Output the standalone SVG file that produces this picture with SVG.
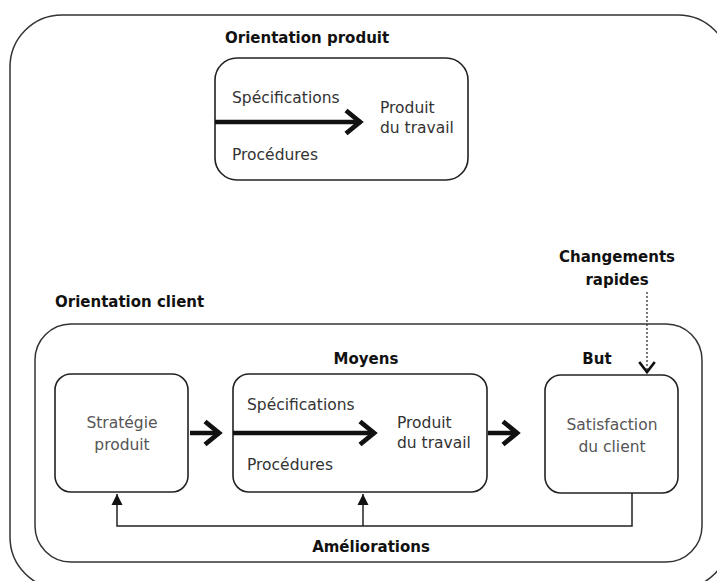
<svg xmlns="http://www.w3.org/2000/svg" width="717" height="581" viewBox="0 0 717 581">
<style>
.frame{fill:none;stroke:#333;stroke-width:1.5}
.box{fill:#fff;stroke:#222;stroke-width:1.6}
.lbl{font-family:"DejaVu Sans",sans-serif;font-size:15.5px;fill:#333}
.glbl{font-family:"DejaVu Sans",sans-serif;font-size:15.5px;fill:#555}
.ttl{font-family:"DejaVu Sans",sans-serif;font-size:15px;font-weight:bold;fill:#111}
.thick{fill:none;stroke:#111;stroke-width:4.5}
.thin{fill:none;stroke:#222;stroke-width:1.5}
.dot{fill:none;stroke:#333;stroke-width:1.3;stroke-dasharray:2 2}
</style>
<defs>
<marker id="chev" markerUnits="userSpaceOnUse" markerWidth="30" markerHeight="30" refX="1" refY="0" viewBox="-16 -15 20 30" orient="auto">
<path d="M-14,-11.5 L0,0 L-14,11.5" fill="none" stroke="#111" stroke-width="4.8" stroke-linejoin="miter"/>
</marker>
<marker id="tri" markerUnits="userSpaceOnUse" markerWidth="14" markerHeight="14" refX="0" refY="0" viewBox="-12 -7 14 14" orient="auto">
<path d="M-11,-5.5 L0,0 L-11,5.5 Z" fill="#111"/>
</marker>
<marker id="vchev" markerUnits="userSpaceOnUse" markerWidth="20" markerHeight="20" refX="0" refY="0" viewBox="-12 -9 14 18" orient="auto">
<path d="M-9,-7 L0,0 L-9,7" fill="none" stroke="#111" stroke-width="2.4"/>
</marker>
</defs>

<g id="outer-frame">
<rect class="frame" x="10" y="15" width="720" height="574" rx="52"/>
</g>

<g id="orientation-produit">
<text class="ttl" x="225" y="43">Orientation produit</text>
<rect class="box" x="215" y="58" width="253" height="122" rx="22"/>
<text class="lbl" x="232" y="103">Spécifications</text>
<text class="lbl" x="232" y="160">Procédures</text>
<text class="lbl" x="380" y="113">Produit</text>
<text class="lbl" x="380" y="133">du travail</text>
</g>

<g id="orientation-client">
<text class="ttl" x="55" y="307">Orientation client</text>
<rect class="frame" x="35" y="324" width="667" height="238" rx="36"/>
</g>

<g id="strategie">
<rect class="box" x="55" y="374" width="133" height="118" rx="16"/>
<text class="glbl" x="122" y="428" text-anchor="middle">Stratégie</text>
<text class="glbl" x="122" y="450" text-anchor="middle">produit</text>
</g>

<g id="moyens">
<text class="ttl" x="366" y="364" text-anchor="middle">Moyens</text>
<rect class="box" x="233" y="374" width="254" height="118" rx="16"/>
<text class="lbl" x="247" y="410">Spécifications</text>
<text class="lbl" x="247" y="470">Procédures</text>
<text class="lbl" x="397" y="428">Produit</text>
<text class="lbl" x="397" y="448">du travail</text>
</g>

<g id="satisfaction">
<text class="ttl" x="597" y="364" text-anchor="middle">But</text>
<rect class="box" x="545" y="375" width="133" height="118" rx="16"/>
<text class="glbl" x="612" y="430" text-anchor="middle">Satisfaction</text>
<text class="glbl" x="612" y="452" text-anchor="middle">du client</text>
</g>

<g id="changements">
<text class="ttl" x="617" y="262" text-anchor="middle">Changements</text>
<text class="ttl" x="617" y="285" text-anchor="middle">rapides</text>
</g>

<g id="ameliorations">
<text class="ttl" x="371" y="552" text-anchor="middle">Améliorations</text>
</g>

<g id="connectors">
<path class="thick" d="M215,122 H361" marker-end="url(#chev)"/>
<path class="thick" d="M233,433 H375" marker-end="url(#chev)"/>
<path class="thick" d="M190,433 H220" marker-end="url(#chev)"/>
<path class="thick" d="M488,433 H518" marker-end="url(#chev)"/>
<path class="dot" d="M647,292 V372" marker-end="url(#vchev)"/>
<path class="thin" d="M632,493 V526 H117 V494" marker-end="url(#tri)"/>
<path class="thin" d="M363,526 V494" marker-end="url(#tri)"/>
</g>
</svg>
